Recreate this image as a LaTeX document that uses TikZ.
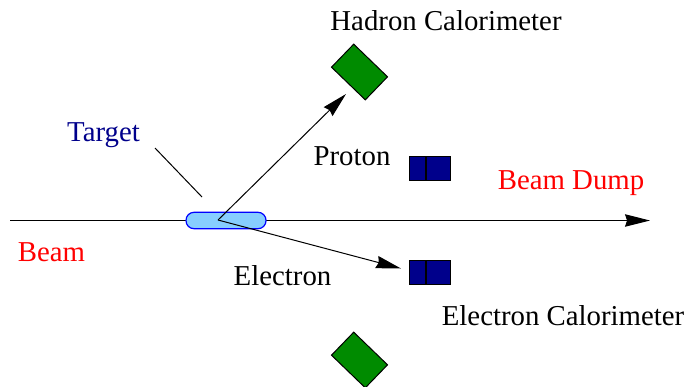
\documentclass[tikz,border=0pt]{standalone}
\usepackage{fontspec}
\setmainfont{Liberation Serif}
\usetikzlibrary{arrows.meta}

\definecolor{calgreen}{RGB}{0,139,0}
\definecolor{calblue}{RGB}{0,0,139}
\definecolor{targetfill}{RGB}{135,206,255}

\tikzset{
  label/.style={inner sep=0pt,font=\fontsize{14.4}{17}\selectfont},
  hadroncal/.style={draw=black,fill=calgreen,line width=.5pt,minimum width=23.5pt,minimum height=16pt,inner sep=0pt,rotate=-44},
  emcal/.style={draw=black,fill=calblue,line width=.5pt,minimum height=12.2pt,inner sep=0pt},
  track/.style={line width=.5pt,-{Stealth[length=12.5pt,width=6.2pt,inset=1pt]}}
}

\begin{document}
\begin{tikzpicture}[x=.5pt,y=-.5pt]
  \useasboundingbox (0,0) rectangle (688,386);

  \coordinate (beamstart) at (10,220.5);
  \coordinate (beamend) at (650,220.5);
  \coordinate (vertex) at (218,220);
  \coordinate (pointerstart) at (155,148);
  \coordinate (pointerend) at (202,197);
  \coordinate (protontip) at (346,94);
  \coordinate (electrontip) at (401,268.5);

  \draw[track] (beamstart) -- (beamend);
  \node[draw=blue,fill=targetfill,line width=.6pt,rounded corners=4pt,minimum width=40pt,minimum height=8.2pt,inner sep=0pt] (target) at (226,220.5) {};

  \node[hadroncal] (hadrontop) at (359.5,72) {};
  \node[hadroncal] (hadronbottom) at (359.5,360) {};

  \node[emcal,minimum width=8.2pt] (protonleft) at (417.7,168.4) {};
  \node[emcal,minimum width=12pt,anchor=west] (protonright) at (protonleft.east) {};
  \node[emcal,minimum width=8.2pt] (electronleft) at (417.7,272.2) {};
  \node[emcal,minimum width=12pt,anchor=west] (electronright) at (electronleft.east) {};

  \draw[line width=.5pt] (pointerstart) -- (pointerend);
  \draw[track] (vertex) -- (protontip);
  \draw[track] (vertex) -- (electrontip);

  \node[label] (hadronlabel) at (446,21) {Hadron Calorimeter};
  \node[label,text=calblue] (targetlabel) at (103.5,135) {Target};
  \node[label] (protonlabel) at (352,156) {Proton};
  \node[label,text=red] (dumplabel) at (571,183) {Beam Dump};
  \node[label,text=red] (beamlabel) at (51.5,252) {Beam};
  \node[label] (electronlabel) at (282.5,276) {Electron};
  \node[label] (emlabel) at (563,316) {Electron Calorimeter};
\end{tikzpicture}
\end{document}
